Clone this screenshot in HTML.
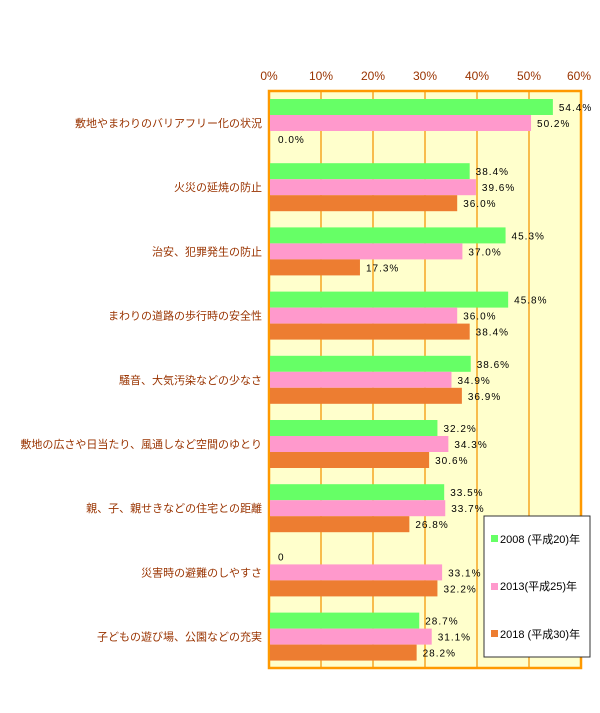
<!DOCTYPE html>
<html><head><meta charset="utf-8"><style>
body{margin:0;background:#fff;width:600px;height:708px;overflow:hidden}
</style></head><body>
<svg width="600" height="708" xmlns="http://www.w3.org/2000/svg" font-family="'Liberation Sans','Noto Sans CJK JP',sans-serif">
<g fill="#993300" font-size="12" text-anchor="middle">
<text x="269" y="80">0%</text><text x="321" y="80">10%</text><text x="373" y="80">20%</text><text x="425" y="80">30%</text><text x="477" y="80">40%</text><text x="529" y="80">50%</text><text x="579" y="80">60%</text>
</g>
<rect x="269" y="91" width="312" height="577" fill="#ffffcc"/>
<g stroke="#f5a623" stroke-width="1.5">
<line x1="321" y1="91" x2="321" y2="668"/><line x1="373" y1="91" x2="373" y2="668"/><line x1="425" y1="91" x2="425" y2="668"/><line x1="477" y1="91" x2="477" y2="668"/><line x1="529" y1="91" x2="529" y2="668"/>
</g>
<rect x="269" y="91" width="312" height="577" fill="none" stroke="#ff9900" stroke-width="2.5"/>
<g id="bars"></g>
<g id="legend">
<rect x="484" y="516" width="106" height="141" fill="#fff" stroke="#333"/>
<rect x="491" y="535" width="7" height="7" fill="#66ff66"/><text x="500" y="543" font-size="11">2008 (平成20)年</text>
<rect x="491" y="583" width="7" height="7" fill="#ff99cc"/><text x="500" y="590" font-size="11">2013(平成25)年</text>
<rect x="491" y="630" width="7" height="7" fill="#ed7d31"/><text x="500" y="638" font-size="11">2018 (平成30)年</text>
</g>
</svg>
<script>
var d=[["敷地やまわりのバリアフリー化の状況",54.4,50.2,0],["火災の延焼の防止",38.4,39.6,36.0],["治安、犯罪発生の防止",45.3,37.0,17.3],["まわりの道路の歩行時の安全性",45.8,36.0,38.4],["騒音、大気汚染などの少なさ",38.6,34.9,36.9],["敷地の広さや日当たり、風通しなど空間のゆとり",32.2,34.3,30.6],["親、子、親せきなどの住宅との距離",33.5,33.7,26.8],["災害時の避難のしやすさ",0,33.1,32.2],["子どもの遊び場、公園などの充実",28.7,31.1,28.2]];
var c=["#66ff66","#ff99cc","#ed7d31"],s="",g=document.getElementById("bars");
d.forEach(function(r,i){var y=99+i*64.2;
s+='<text x="262" y="'+(y+28)+'" font-size="11" fill="#993300" text-anchor="end">'+r[0]+'</text>';
for(var k=0;k<3;k++){var v=r[k+1],yy=y+k*16,w=v*5.2;
if(v>0)s+='<rect x="270" y="'+yy+'" width="'+w+'" height="16" fill="'+c[k]+'"/>';
var t=v.toFixed(1)+"%";if(i==7&&k==0)t="0";
s+='<text x="'+(270+w+(v>0?6:8))+'" y="'+(yy+12)+'" font-size="10" fill="#000" letter-spacing="1">'+t+'</text>';}
});
g.innerHTML=s;
</script>
</body></html>
